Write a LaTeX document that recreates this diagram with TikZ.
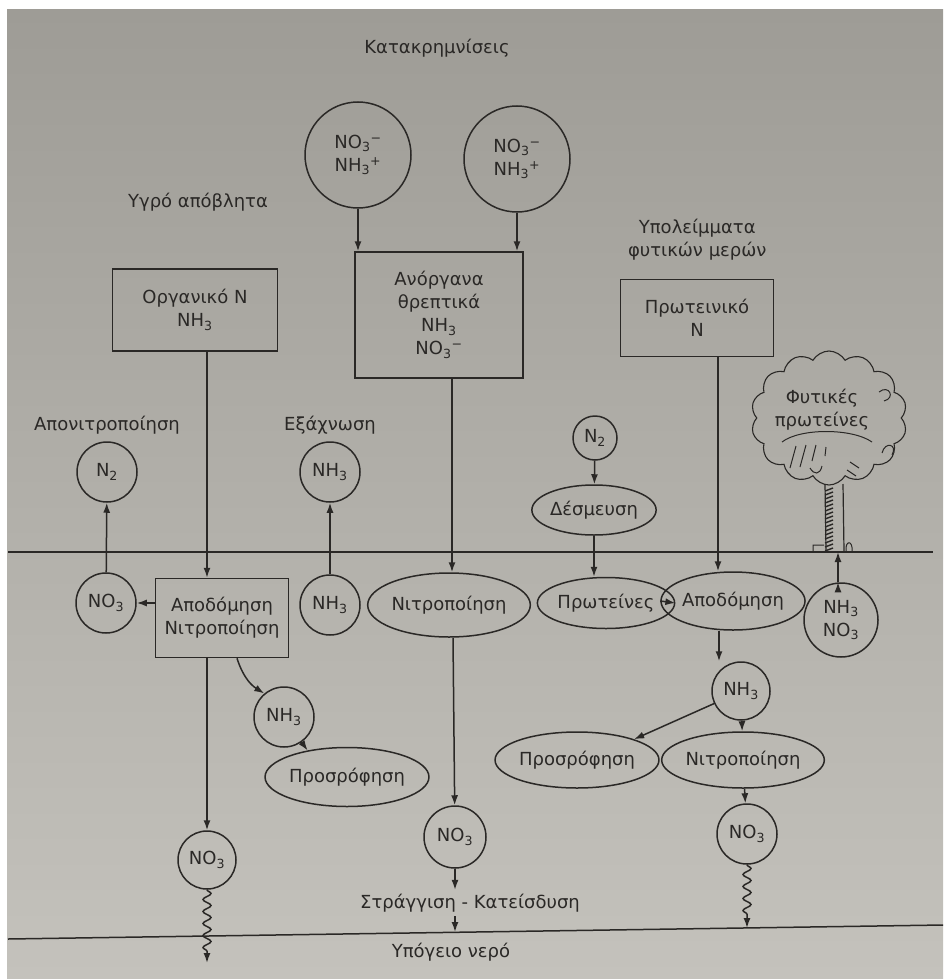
\documentclass[tikz,border=0pt]{standalone}
\usepackage{fontspec}
\setmainfont{DejaVu Sans}
\usetikzlibrary{positioning, arrows.meta, shapes.geometric, shapes.symbols, decorations.pathmorphing}

\definecolor{ink}{RGB}{42,40,38}
\definecolor{papertop}{RGB}{158,156,150}
\definecolor{paperbot}{RGB}{196,194,188}

\newcommand{\nitr}{NO\textsubscript{3}}
\newcommand{\amm}{NH\textsubscript{3}}

\begin{document}
\begin{tikzpicture}[x=1pt, y=-1pt, line width=1.5pt, color=ink,
	>={Latex[length=10pt, width=7pt]},
	every node/.style={font=\fontsize{18}{23}\selectfont, align=center},
	box/.style={draw, rectangle, inner sep=2pt},
	pool/.style={draw, circle, inner sep=0pt},
	proc/.style={draw, ellipse, inner sep=0pt},
	wavy/.style={decorate, decoration={snake, amplitude=4pt, segment length=12pt, post length=10pt}}]

	\useasboundingbox (0,0) rectangle (943,979);
	\fill[white] (0,0) rectangle (943,979);
	\shade[top color=papertop, bottom color=paperbot] (7,10) rectangle (943,979);

	% soil surface and groundwater table
	\coordinate (surfW) at (8,552);
	\coordinate (surfE) at (933,552);
	\coordinate (gwW) at (8,939);
	\coordinate (gwE) at (943,925);
	\draw (surfW) -- (surfE);
	\draw (gwW) -- (gwE);

	% inputs from above
	\node (rain) at (437,48) {Κατακρημνίσεις};
	\node[pool, minimum size=106pt] (rainA) at (358,155) {\nitr\textsuperscript{−}\\\amm\textsuperscript{+}};
	\node[pool, minimum size=106pt] (rainB) at (517,159) {\nitr\textsuperscript{−}\\\amm\textsuperscript{+}};
	\node[box, minimum width=168pt, minimum height=126pt] (mineral) at (439,315) {Ανόργανα\\θρεπτικά\\\amm\\\nitr\textsuperscript{−}};

	\node (waste) at (198,202) {Υγρό απόβλητα};
	\node[box, minimum width=165pt, minimum height=82pt] (organic) at (195,310) {Οργανικό N\\\amm};

	\node[anchor=west] (resid) at (624,240) {Υπολείμματα\\φυτικών μερών};
	\node[box, minimum width=153pt, minimum height=77pt] (protN) at (697,318) {Πρωτεινικό\\N};

	% losses to the air
	\node[pool, minimum size=60pt] (n2L) at (107,472) {N\textsubscript{2}};
	\node[above=3pt of n2L] (denit) {Απονιτροποίηση};
	\node[pool, minimum size=60pt] (nh3up) at (330,472) {\amm};
	\node[above=3pt of nh3up] (volat) {Εξάχνωση};

	% left column, below the surface
	\node[box, minimum width=133pt, minimum height=79pt] (decomp) at (222,618) {Αποδόμηση\\Νιτροποίηση};
	\node[pool, minimum size=60pt] (no3L) at (106,603) {\nitr};
	\node[pool, minimum size=60pt] (nh3soil) at (330,605) {\amm};
	\node[pool, minimum size=60pt] (nh3L) at (284,717) {\amm};
	\node[proc, minimum width=139pt, minimum height=59pt] (sorbL) at (347,777) {Προσρόφηση};
	\node[pool, minimum size=58pt] (no3B) at (207,860) {\nitr};
	\coordinate (drainL) at (207,963);

	% middle column
	\node[proc, minimum width=130pt, minimum height=64pt] (nitroM) at (449,605) {Νιτροποίηση};
	\node[pool, minimum size=62pt] (no3M) at (455,837) {\nitr};
	\node (leach) at (470,903) {Στράγγιση - Κατείσδυση};
	\node (gw) at (451,952) {Υπόγειο νερό};
	\coordinate (gwM) at (455,932);

	% right column
	\node[pool, minimum size=44pt] (n2R) at (595,438) {N\textsubscript{2}};
	\node[proc, minimum width=113pt, minimum height=50pt] (fix) at (594,510) {Δέσμευση};
	\node[proc, minimum width=118pt, minimum height=51pt] (prot) at (606,603) {Πρωτείνες};
	\node[proc, minimum width=132pt, minimum height=58pt] (decompR) at (733,601) {Αποδόμηση};
	\node[pool, minimum size=58pt] (nh3R) at (741,691) {\amm};
	\node[proc, minimum width=131pt, minimum height=56pt] (sorbR) at (577,760) {Προσρόφηση};
	\node[proc, minimum width=130pt, minimum height=56pt] (nitroR) at (743,760) {Νιτροποίηση};
	\node[pool, minimum size=60pt] (no3R) at (747,834) {\nitr};
	\coordinate (gwR) at (747,928);
	\node[pool, minimum size=74pt] (uptake) at (841,620) {\amm\\\nitr};

	% the tree
	\node[cloud, draw, cloud puffs=14, cloud puff arc=120, cloud ignores aspect,
		minimum width=156pt, minimum height=134pt, line width=1.1pt] (crown) at (829,418) {};
	\node (crowntext) at (822,410) {Φυτικές\\πρωτείνες};
	\coordinate (root) at (838,552);
	\draw[line width=1.2pt] (825,484) -- (826,551) (843,484) -- (844,551);
	\foreach \y in {488,492,...,548}
		\draw[line width=1.4pt] (825,\y+3) -- (833,\y);
	\draw[line width=1pt] (813,552) -- (813,545) -- (824,545)
		(846,551) .. controls (845,540) and (853,540) .. (852,551);
	\draw[line width=1pt] (782,442) .. controls (800,428) and (852,428) .. (872,442);
	\draw[line width=1pt] (796,446) -- (790,468) (806,445) -- (800,467)
		(816,445) -- (812,461) (826,447) -- (825,456)
		(810,468) .. controls (814,475) and (820,475) .. (822,466)
		(850,462) -- (859,468) (847,470) -- (856,476);
	\draw[line width=1pt] (879,392) .. controls (889,384) and (896,398) .. (884,401)
		(882,453) .. controls (885,441) and (898,444) .. (892,455);

	\draw [->]
		(rainA) edge (rainA |- mineral.north)
		(rainB) edge (rainB |- mineral.north)
		([xshift=12pt]organic.south) edge ([xshift=-15pt]decomp.north)
		(decomp.west |- no3L) edge (no3L)
		(no3L) edge (n2L)
		(nh3soil) edge (nh3up)
		([xshift=-15pt]decomp.south) edge (no3B)
		([xshift=15pt]decomp.south) edge[bend right=20] (nh3L.130)
		(nh3L.-55) edge (sorbL.146)
		(no3B) edge[wavy] (drainL)

		([xshift=13pt]mineral.south) edge ([xshift=13pt]mineral.south |- nitroM.north)
		([xshift=4pt]nitroM.south) edge (no3M)
		(no3M) edge (leach.north -| no3M)
		(leach.south -| no3M) edge (gwM)

		([xshift=21pt]protN.south) edge ([xshift=21pt]protN.south |- decompR.north)
		(n2R) edge (fix)
		(fix.south) edge (fix.south |- prot.north)
		(decompR.west) edge (prot.east)
		([xshift=-14pt]decompR.south) edge ([xshift=-22pt]nh3R.north)
		(nh3R.205) edge (sorbR.20)
		(nh3R) edge (nitroR)
		(nitroR) edge (no3R)
		(no3R) edge[wavy] (gwR)
		(uptake.north -| root) edge (root)
		;
\end{tikzpicture}
\end{document}
